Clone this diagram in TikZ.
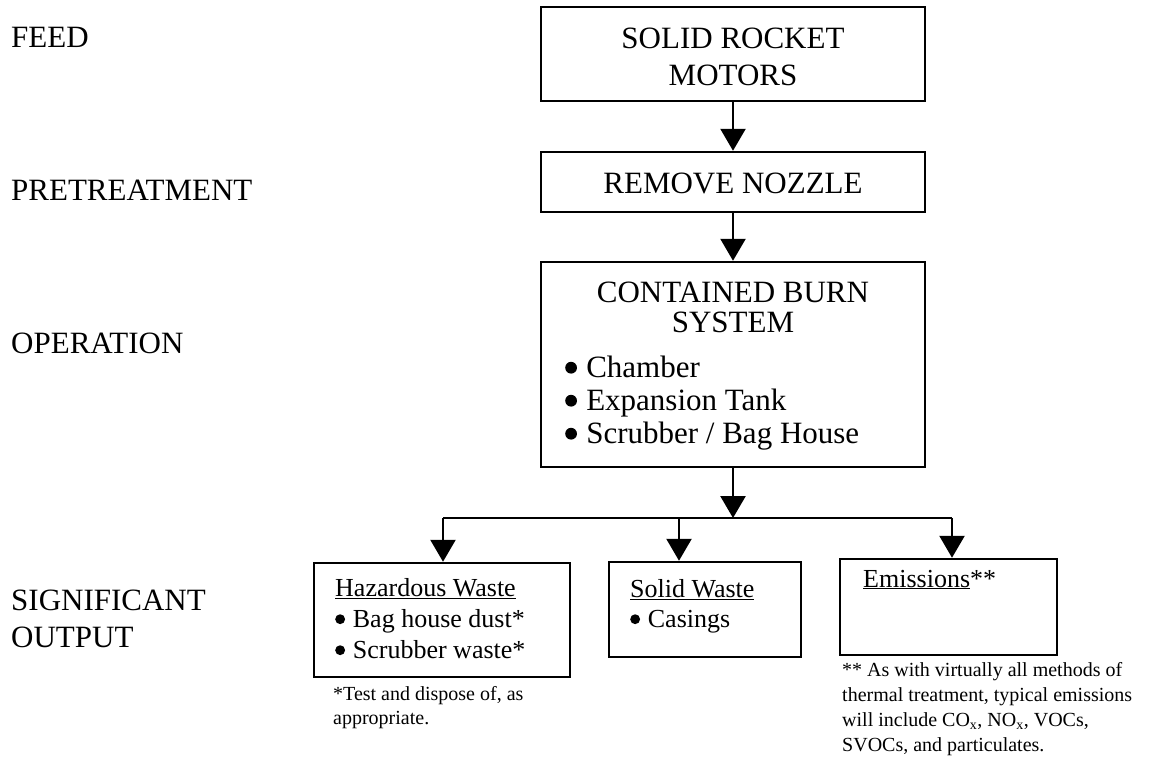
\documentclass[tikz,border=0pt]{standalone}
\usepackage{fontspec}
\setmainfont{Liberation Serif}
\usetikzlibrary{arrows.meta}
\newcommand\bul{\tikz[baseline=0pt]\fill (0.19em,0.3em) circle[radius=0.19em];\hspace{0.3em}}
\begin{document}
\begin{tikzpicture}[x=1pt,y=-1pt,
  box/.style={draw,line width=2.5pt,inner sep=0pt,anchor=center},
  big/.style={font=\fontsize{31}{36}\selectfont,inner sep=0pt},
  mid/.style={font=\fontsize{26}{30}\selectfont,inner sep=0pt,anchor=base west},
  small/.style={font=\fontsize{20}{25}\selectfont,inner sep=0pt,anchor=base west},
  arr/.style={line width=2.5pt,-{Triangle[length=22pt,width=25pt]}},
  conn/.style={line width=2.5pt}]
\useasboundingbox (0,0) rectangle (1161,763);
% left labels
\node[big,anchor=base west] (lfeed) at (11,47) {FEED};
\node[big,anchor=base west] (lpre) at (11,200) {PRETREATMENT};
\node[big,anchor=base west] (lop) at (11,353) {OPERATION};
\node[big,anchor=base west] (lsig) at (11,610) {SIGNIFICANT};
\node[big,anchor=base west] (lout) at (11,647) {OUTPUT};
% boxes
\node[box,minimum width=384pt,minimum height=94pt] (b1) at (733,54) {};
\node[box,minimum width=384pt,minimum height=60pt] (b2) at (733,182) {};
\node[box,minimum width=384pt,minimum height=205pt] (b3) at (733,364.5) {};
\node[box,minimum width=256pt,minimum height=114pt] (haz) at (442,620) {};
\node[box,minimum width=192pt,minimum height=95pt] (sol) at (705,609.5) {};
\node[box,minimum width=217pt,minimum height=96pt] (emi) at (948.5,607) {};
% box texts
\node[big,anchor=base] (t1a) at (733,48) {SOLID ROCKET};
\node[big,anchor=base] (t1b) at (733,85) {MOTORS};
\node[big,anchor=base] (t2) at (733,193) {REMOVE NOZZLE};
\node[big,anchor=base] (t3a) at (733,302) {CONTAINED BURN};
\node[big,anchor=base] (t3b) at (733,332) {SYSTEM};
\node[big,anchor=base west] (t3c) at (565,377) {\bul Chamber};
\node[big,anchor=base west] (t3d) at (565,410) {\bul Expansion Tank};
\node[big,anchor=base west] (t3e) at (565,443) {\bul Scrubber / Bag House};
\node[mid] (h1) at (335,596) {\underline{Hazardous Waste}};
\node[mid] (h2) at (335,627) {\bul Bag house dust*};
\node[mid] (h3) at (335,658) {\bul Scrubber waste*};
\node[mid] (s1) at (630,597) {\underline{Solid Waste}};
\node[mid] (s2) at (630,627) {\bul Casings};
\node[mid] (e1) at (863,587) {\underline{Emissions}**};
% footnotes
\node[small] (f1) at (333,700) {*Test and dispose of, as};
\node[small] (f2) at (333,724) {appropriate.};
\node[small] (g1) at (842,676) {** As with virtually all methods of};
\node[small] (g2) at (842,701) {thermal treatment, typical emissions};
\node[small] (g3) at (842,726) {will include CO\textsubscript{x}, NO\textsubscript{x}, VOCs,};
\node[small] (g4) at (842,751) {SVOCs, and particulates.};
% connectors
\coordinate (j) at (733,518);
\coordinate (jl) at (443,518);
\coordinate (jm) at (679,518);
\coordinate (jr) at (952,518);
\draw[arr] (b1.south) -- (b2.north);
\draw[arr] (b2.south) -- (b3.north);
\draw[arr] (b3.south) -- (j);
\draw[conn] (jl) -- (jr);
\draw[arr] (jl) -- (jl |- haz.north);
\draw[arr] (jm) -- (jm |- sol.north);
\draw[arr] (jr) -- (jr |- emi.north);
\end{tikzpicture}
\end{document}
